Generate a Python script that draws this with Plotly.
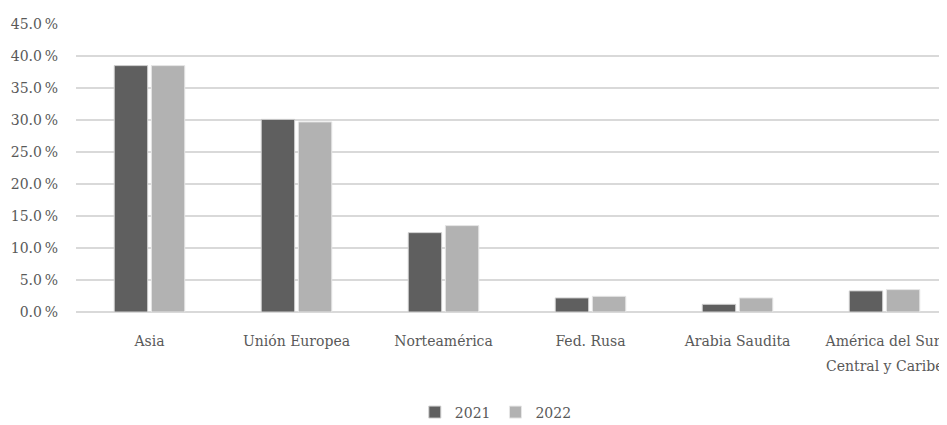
import plotly.graph_objects as go

categories = ["Asia", "Unión Europea", "Norteamérica", "Fed. Rusa", "Arabia Saudita",
              "América del Sur, Central y Caribe"]
category_labels = ["Asia", "Unión Europea", "Norteamérica", "Fed. Rusa", "Arabia Saudita",
                   "América del Sur,"]
label_second_line = "Central y Caribe"
values_2021 = [38.5, 30.1, 12.4, 2.2, 1.2, 3.3]
values_2022 = [38.5, 29.7, 13.5, 2.45, 2.2, 3.5]
tick_vals = [0, 5, 10, 15, 20, 25, 30, 35, 40, 45]
tick_text = ["0.0\u2009%", "5.0\u2009%", "10.0\u2009%", "15.0\u2009%", "20.0\u2009%",
             "25.0\u2009%", "30.0\u2009%", "35.0\u2009%", "40.0\u2009%", "45.0\u2009%"]

font_family = "DejaVu Serif"
txt_color = "#595959"
fsize = 14

fig = go.Figure()
fig.add_trace(go.Bar(name="2021", x=categories, y=values_2021,
                     marker=dict(color="#5f5f5f", line=dict(color="#d0d0d0", width=1))))
fig.add_trace(go.Bar(name="2022", x=categories, y=values_2022,
                     marker=dict(color="#b2b2b2", line=dict(color="#e6e6e6", width=1))))

fig.add_annotation(x=categories[5], y=0, xref="x", yref="y", yshift=-54,
                   text=label_second_line, showarrow=False, yanchor="middle",
                   font=dict(family=font_family, size=fsize, color=txt_color))

fig.update_layout(
    width=939, height=417,
    margin=dict(l=68, r=0, t=16, b=113, autoexpand=False),
    paper_bgcolor="white", plot_bgcolor="white",
    barmode="group", bargap=0.495, bargroupgap=0.1,
    font=dict(family=font_family, size=fsize, color=txt_color),
    showlegend=True,
    legend=dict(orientation="h", x=0.482, xanchor="center",
                yref="container", y=0.03, yanchor="middle",
                font=dict(family=font_family, size=fsize, color=txt_color),
                traceorder="normal", itemwidth=30),
)
fig.update_xaxes(range=[-0.5, 5.425], showgrid=False, showline=False, ticks="",
                 tickvals=categories, ticktext=category_labels, ticklabelstandoff=19,
                 automargin=False,
                 tickfont=dict(family=font_family, size=fsize, color=txt_color))
fig.update_yaxes(range=[0, 45], tickvals=tick_vals, ticktext=tick_text,
                 showgrid=True, gridcolor="#d9d9d9", gridwidth=1.5,
                 zeroline=True, zerolinecolor="#d9d9d9", zerolinewidth=1.5,
                 showline=False, ticks="", ticklabelstandoff=17, automargin=False,
                 tickfont=dict(family=font_family, size=fsize, color=txt_color))

fig.write_html("out.html")
